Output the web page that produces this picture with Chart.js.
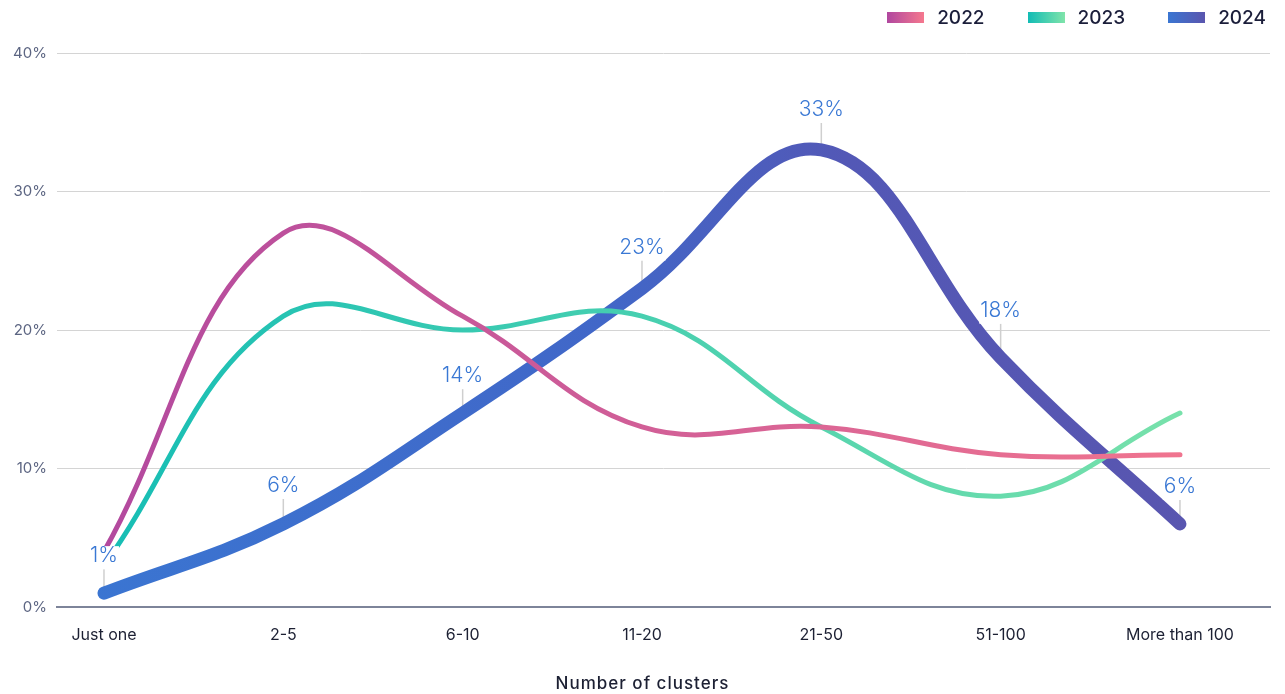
<!DOCTYPE html>
<html>
<head>
<meta charset="utf-8">
<script src="https://cdn.jsdelivr.net/npm/chart.js@4.4.0/dist/chart.umd.min.js"></script>
<style>
    html, body { margin: 0; padding: 0; background: #ffffff; }
    body { width: 1285px; height: 694px; position: relative; overflow: hidden; font-family: Inter, "Noto Sans", sans-serif; }
    #wrap { position: absolute; left: 0; top: 0; width: 1285px; height: 694px; }
    #legenda { position: absolute; top: 6px; right: 19px; display: flex; }
    .voce { display: flex; align-items: center; margin-left: 43px; font-size: 19px; font-weight: 500; color: #1b1e3a; }
    .box { width: 37px; height: 11px; margin-right: 13px; }
</style>
</head>
<body>
<div id="wrap"><canvas id="grafico-cluster" width="1285" height="694"></canvas></div>
<div id="legenda"></div>

<script>
    // categorie e valori (percentuali) per anno
    var categorie = ['Just one', '2-5', '6-10', '11-20', '21-50', '51-100', 'More than 100'];
    var anni = ['2022', '2023', '2024'];
    var valori2022 = [4, 27, 21, 13, 13, 11, 11];
    var valori2023 = [3, 21, 20, 21, 13, 8, 14];
    var valori2024 = [1, 6, 14, 23, 33, 18, 6];
    var tickAsseY = [0, 10, 20, 30, 40];
    var titoloAsseX = 'Number of clusters';

    var fontBase = 'Inter, "Noto Sans", sans-serif';

    // colori dei gradienti (inizio -> fine)
    var gradienti = {
        '2022': ['#b0479f', '#f5788e'],
        '2023': ['#12bcb5', '#80e4aa'],
        '2024': ['#3a76d2', '#5a55ae']
    };

    function gradienteLinea(anno) {
        return function (ctx) {
            var area = ctx.chart.chartArea;
            if (!area) return gradienti[anno][0];
            var g = ctx.chart.ctx.createLinearGradient(area.left, 0, area.right, 0);
            if (anno === '2024') {
                g.addColorStop(0, '#3a76d2');
                g.addColorStop(0.45, '#4167c8');
                g.addColorStop(0.65, '#5358b6');
                g.addColorStop(1, '#5a55ae');
            } else {
                g.addColorStop(0, gradienti[anno][0]);
                g.addColorStop(1, gradienti[anno][1]);
            }
            return g;
        };
    }

    function punti(valori) {
        return valori.map(function (v, i) { return { x: i, y: v }; });
    }

    // legenda in html con i box sfumati
    var legenda = document.getElementById('legenda');
    for (var i = 0; i < anni.length; i++) {
        var voce = document.createElement('div');
        voce.className = 'voce';
        voce.innerHTML = '<div class="box" style="background:linear-gradient(90deg,' +
            gradienti[anni[i]][0] + ',' + gradienti[anni[i]][1] + ')"></div>' + anni[i];
        legenda.appendChild(voce);
    }

    // etichette del 2024 con lineetta grigia (distanza dal punto per ogni etichetta)
    var distanzeEtichette = [37, 38, 37, 41, 40, 47, 37];
    var etichette2024 = {
        id: 'etichette2024',
        beforeDatasetsDraw: function (chart) {
            var meta = chart.getDatasetMeta(2);
            var c = chart.ctx;
            c.save();
            c.strokeStyle = '#cfcfcf';
            c.lineWidth = 1.5;
            meta.data.forEach(function (p, i) {
                c.beginPath();
                c.moveTo(p.x, p.y);
                c.lineTo(p.x, p.y - distanzeEtichette[i] + 13);
                c.stroke();
            });
            c.restore();
        },
        afterDatasetsDraw: function (chart) {
            var meta = chart.getDatasetMeta(2);
            var c = chart.ctx;
            c.save();
            c.font = '300 21px ' + fontBase;
            c.textAlign = 'center';
            c.textBaseline = 'middle';
            meta.data.forEach(function (p, i) {
                var testo = valori2024[i] + '%';
                var w = c.measureText(testo).width;
                var y = p.y - distanzeEtichette[i];
                // sfondo bianco sotto il testo
                c.fillStyle = '#ffffff';
                c.fillRect(p.x - w / 2 - 1, y - 10, w + 2, 23);
                c.fillStyle = '#3a78d4';
                c.fillText(testo, p.x, y);
            });
            c.restore();
        }
    };

    // titolo dell'asse x centrato sulla pagina
    var titoloX = {
        id: 'titoloX',
        afterDraw: function (chart) {
            var c = chart.ctx;
            c.save();
            c.font = '500 17px ' + fontBase;
            c.letterSpacing = '1px';
            c.fillStyle = '#1c2033';
            c.textAlign = 'center';
            c.textBaseline = 'middle';
            c.fillText(titoloAsseX, chart.width / 2, 684);
            c.restore();
        }
    };

    var canvas = document.getElementById('grafico-cluster');
    var grafico = new Chart(canvas, {
        type: 'line',
        data: {
            datasets: [{
                label: '2022',
                data: punti(valori2022),
                borderColor: gradienteLinea('2022'),
                borderWidth: 5
            }, {
                label: '2023',
                data: punti(valori2023),
                borderColor: gradienteLinea('2023'),
                borderWidth: 5
            }, {
                label: '2024',
                data: punti(valori2024),
                borderColor: gradienteLinea('2024'),
                borderWidth: 13
            }]
        },
        options: {
            responsive: false,
            animation: false,
            layout: { padding: { top: 53, right: 15, left: 0, bottom: 0 } },
            elements: {
                line: { tension: 0.4, borderCapStyle: 'round', borderJoinStyle: 'round', fill: false },
                point: { radius: 0, hoverRadius: 0 }
            },
            plugins: {
                legend: { display: false },
                tooltip: { enabled: false }
            },
            scales: {
                x: {
                    type: 'linear',
                    min: -0.262,
                    max: 6.502,
                    afterBuildTicks: function (scale) {
                        scale.ticks = categorie.map(function (c, i) { return { value: i }; });
                    },
                    afterFit: function (scale) { scale.height = 87; },
                    grid: { display: false, drawTicks: false },
                    border: { display: true, color: '#7d8499', width: 2 },
                    ticks: {
                        autoSkip: false,
                        maxRotation: 0,
                        padding: 19,
                        color: '#1c2033',
                        font: { family: fontBase, size: 16 },
                        callback: function (v) { return categorie[v]; }
                    }
                },
                y: {
                    min: 0,
                    max: 40,
                    afterBuildTicks: function (scale) {
                        scale.ticks = tickAsseY.map(function (v) { return { value: v }; });
                    },
                    afterFit: function (scale) { scale.width = 57; },
                    grid: { color: '#d4d4d4', lineWidth: 1, drawTicks: false },
                    border: { display: false },
                    ticks: {
                        padding: 10,
                        color: '#5c6582',
                        font: { family: fontBase, size: 15 },
                        callback: function (v) { return v + '%'; }
                    }
                }
            }
        },
        plugins: [etichette2024, titoloX]
    });
</script>
</body>
</html>
